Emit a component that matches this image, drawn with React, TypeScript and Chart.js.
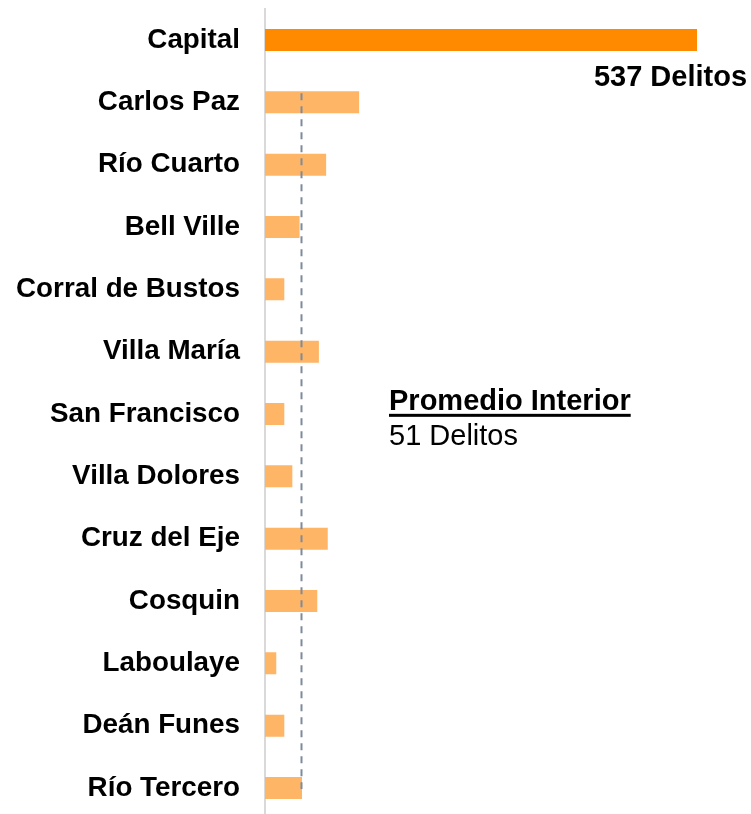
import React, { useEffect, useRef } from "react";
import { Chart, registerables } from "chart.js";

Chart.register(...registerables);

const categorias = [
  "Capital",
  "Carlos Paz",
  "Río Cuarto",
  "Bell Ville",
  "Corral de Bustos",
  "Villa María",
  "San Francisco",
  "Villa Dolores",
  "Cruz del Eje",
  "Cosquin",
  "Laboulaye",
  "Deán Funes",
  "Río Tercero",
];
const delitos = [537, 117, 76, 43, 24, 67, 24, 34, 78, 65, 14, 24, 46];
const coloresBarras = ["#FF8A00", "#FFB566", "#FFB566", "#FFB566", "#FFB566", "#FFB566", "#FFB566", "#FFB566", "#FFB566", "#FFB566", "#FFB566", "#FFB566", "#FFB566"];
const capitalTexto = "537 Delitos";
const promedioTitulo = "Promedio Interior";
const promedioTexto = "51 Delitos";
const promedioLineaValor = 45;

const FONT = "'Liberation Sans', Arial, sans-serif";

const overlayPlugin = {
  id: "overlay",
  afterDatasetsDraw(chart: any) {
    const { ctx, chartArea } = chart;
    const xs = chart.scales.x;
    const ys = chart.scales.y;
    const meta = chart.getDatasetMeta(0);
    const half = meta.data[1] ? meta.data[1].height / 2 : 11;

    // dashed average line
    const lx = Math.round(xs.getPixelForValue(promedioLineaValor)) + 0.5;
    const top = ys.getPixelForValue(1) - half;
    const bottom = ys.getPixelForValue(categorias.length - 1) + half;
    ctx.save();
    ctx.strokeStyle = "#7f8b9b";
    ctx.lineWidth = 2;
    ctx.setLineDash([7, 6]);
    ctx.beginPath();
    ctx.moveTo(lx, top + 2);
    ctx.lineTo(lx, bottom - 10);
    ctx.stroke();
    ctx.restore();

    // annotations
    ctx.save();
    ctx.fillStyle = "#000";
    ctx.textBaseline = "alphabetic";
    ctx.font = `bold 29px ${FONT}`;
    ctx.textAlign = "right";
    const capX = xs.getPixelForValue(delitos[0]) + 50;
    const capY = ys.getPixelForValue(0) + 46;
    ctx.fillText(capitalTexto, capX, capY);

    ctx.textAlign = "left";
    const px = chartArea.left + 124;
    const py = (ys.getPixelForValue(5) + ys.getPixelForValue(6)) / 2 + 27;
    ctx.fillText(promedioTitulo, px, py);
    const w = ctx.measureText(promedioTitulo).width;
    ctx.fillRect(px, py + 4, w, 3);
    ctx.font = `29px ${FONT}`;
    ctx.fillText(promedioTexto, px, py + 35);
    ctx.restore();
  },
};

export default function App() {
  const ref = useRef<HTMLCanvasElement | null>(null);

  useEffect(() => {
    if (!ref.current) return;
    const chart = new Chart(ref.current, {
      type: "bar",
      data: {
        labels: categorias,
        datasets: [
          {
            data: delitos,
            backgroundColor: coloresBarras,
            borderWidth: 0,
            categoryPercentage: 1,
            barPercentage: 0.353,
          },
        ],
      },
      options: {
        indexAxis: "y",
        responsive: false,
        animation: false,
        devicePixelRatio: 1,
        layout: { padding: { top: 8.8, bottom: 0.8, left: 0, right: 3.3 } },
        plugins: {
          legend: { display: false },
          tooltip: { enabled: false },
        },
        scales: {
          x: {
            display: false,
            min: 0,
            max: 600,
          },
          y: {
            grid: { display: false, drawTicks: false, tickLength: 0 },
            border: { display: true, color: "#d9d9d9", width: 2 },
            ticks: {
              autoSkip: false,
              padding: 25,
              color: "#000",
              font: { family: FONT, size: 27.8, weight: "bold" },
            },
            afterFit(scale: any) {
              scale.width = 265;
              scale.paddingTop = 0;
              scale.paddingBottom = 0;
            },
          },
        },
      },
      plugins: [overlayPlugin],
    });
    return () => chart.destroy();
  }, []);

  return (
    <div
      style={{
        position: "fixed",
        left: 0,
        top: 0,
        width: 751,
        height: 814,
        overflow: "hidden",
        background: "#fff",
      }}
    >
      <canvas ref={ref} width={751} height={820} style={{ display: "block", width: 751, height: 820 }} />
    </div>
  );
}
